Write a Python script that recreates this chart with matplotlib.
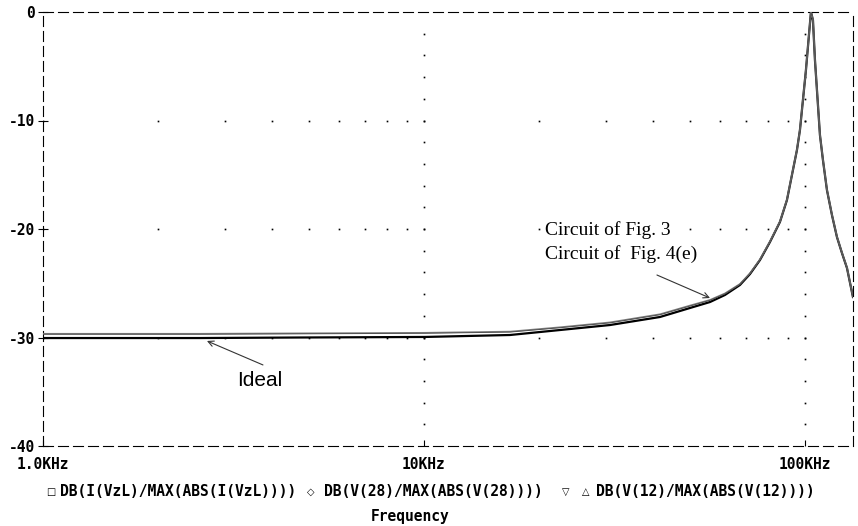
import matplotlib
matplotlib.use("Agg")
import matplotlib.pyplot as plt
import numpy as np

# frequency points (Hz) and normalised responses (dB)
freq = [1000, 2583, 4726, 10060, 16816, 22753, 30779, 41638, 49914, 56330,
        61666, 67512, 71731, 76187, 80929, 85975, 89692, 93005, 95280, 97023,
        98798, 100605, 102448, 103694, 104956, 106233, 108175, 109491, 111493,
        114223, 117726, 121337, 125060, 128906, 133660]
db_ideal = [-30.05, -30.05, -30.0, -29.95, -29.77, -29.31, -28.85, -28.11, -27.28, -26.73,
            -26.08, -25.16, -24.15, -22.86, -21.2, -19.35, -17.33, -14.56, -12.72, -10.88,
            -8.11, -5.35, -2.12, 0.0, -0.74, -4.42, -8.57, -11.34, -13.64,
            -16.41, -18.71, -20.74, -22.21, -23.59, -26.27]
db_fig3 = [-29.65, -29.65, -29.61, -29.56, -29.45, -29.05, -28.6, -27.85, -27.05, -26.53,
           -25.93, -25.06, -24.08, -22.81, -21.16, -19.32, -17.3, -14.53, -12.7, -10.86,
           -8.09, -5.33, -2.1, 0.0, -0.72, -4.4, -8.55, -11.32, -13.62,
           -16.39, -18.69, -20.72, -22.19, -23.57, -26.25]
db_fig4e = [-29.7, -29.7, -29.66, -29.61, -29.5, -29.1, -28.65, -27.9, -27.1, -26.57,
            -25.97, -25.09, -24.1, -22.83, -21.18, -19.33, -17.31, -14.54, -12.71, -10.87,
            -8.1, -5.34, -2.11, 0.0, -0.73, -4.41, -8.56, -11.33, -13.63,
            -16.4, -18.7, -20.73, -22.2, -23.58, -26.26]

yticks = [0, -10, -20, -30, -40]
xticks = [1e3, 1e4, 1e5]
xtick_labels = ["1.0KHz", "10KHz", "100KHz"]

W, H = 858, 526
fig = plt.figure(figsize=(W / 100, H / 100), dpi=100)
ax = fig.add_axes([43 / W, 1 - 446 / H, (853 - 43) / W, (446 - 12) / H])

ax.plot(freq, db_ideal, color="black", lw=1.6, zorder=3)
ax.plot(freq, db_fig3, color="#808080", lw=1.1, zorder=4)
ax.plot(freq, db_fig4e, color="#505050", lw=0.7, zorder=4)

ax.set_xscale("log")
ax.set_xlim(1e3, 1.337e5)
ax.set_ylim(-40, 0)

# dotted grid: dots at minor log positions on the dB lines, every 2 dB on decade lines
minor_x = [m * d for d in (1e3, 1e4, 1e5) for m in range(1, 10) if m * d <= 1.337e5]
for yv in (-10, -20, -30):
    ax.plot(minor_x, [yv] * len(minor_x), ls="none", marker="s", ms=1.2,
            color="black", mew=0, zorder=2)
for xv in (1e4, 1e5):
    ys = np.arange(-38, 0, 2)
    ax.plot([xv] * len(ys), ys, ls="none", marker="s", ms=1.2,
            color="black", mew=0, zorder=2)

for s in ax.spines.values():
    s.set_linestyle((0, (9, 4.5)))
    s.set_linewidth(0.8)

mono = dict(family="DejaVu Sans Mono", weight="bold", size=10.5)
ax.set_yticks(yticks)
ax.set_yticklabels([str(v) for v in yticks], **mono)
ax.set_xticks(xticks)
ax.set_xticklabels(xtick_labels, **mono)
ax.xaxis.set_minor_locator(matplotlib.ticker.NullLocator())
ax.tick_params(axis="y", direction="inout", length=7, width=0.8, pad=2)
ax.tick_params(axis="x", direction="in", length=4, width=0.8, pad=8)

# annotations (white box hides the grid dots under the text)
serif = dict(family="Liberation Serif", size=14, zorder=5,
             bbox=dict(facecolor="white", edgecolor="none", pad=0.5))
ax.text(20780, -20.09, "Circuit of Fig. 3", va="center", ha="left", **serif)
ax.text(20780, -22.3, "Circuit of  Fig. 4(e)", va="center", ha="left", **serif)
ax.annotate("", xy=(56330, -26.36), xytext=(40880, -24.24),
            arrowprops=dict(arrowstyle="->", color="#333333", lw=0.8,
                            shrinkA=0, shrinkB=0))
ax.text(3700, -33.92, "Ideal", va="center", ha="center",
        family="Liberation Sans", size=15)
ax.annotate("", xy=(2694, -30.32), xytext=(3779, -32.53),
            arrowprops=dict(arrowstyle="->", color="#333333", lw=0.8,
                            shrinkA=0, shrinkB=0))

# trace legend and axis title
def fx(px):
    return px / W


def fy(py):
    return 1 - py / H


sym = dict(family="DejaVu Sans", size=7, va="center", ha="center")
fig.text(fx(51), fy(492), "\u25a1", **sym)
fig.text(fx(60), fy(492), "DB(I(VzL)/MAX(ABS(I(VzL))))", va="center", ha="left", **mono)
fig.text(fx(311), fy(492), "\u25c7", **sym)
fig.text(fx(324), fy(492), "DB(V(28)/MAX(ABS(V(28))))", va="center", ha="left", **mono)
fig.text(fx(566), fy(492), "\u25bd", **sym)
fig.text(fx(586), fy(492), "\u25b3", **sym)
fig.text(fx(596), fy(492), "DB(V(12)/MAX(ABS(V(12))))", va="center", ha="left", **mono)
fig.text(fx(410), fy(517), "Frequency", va="center", ha="center", **mono)

fig.savefig("out.png", dpi=100)
